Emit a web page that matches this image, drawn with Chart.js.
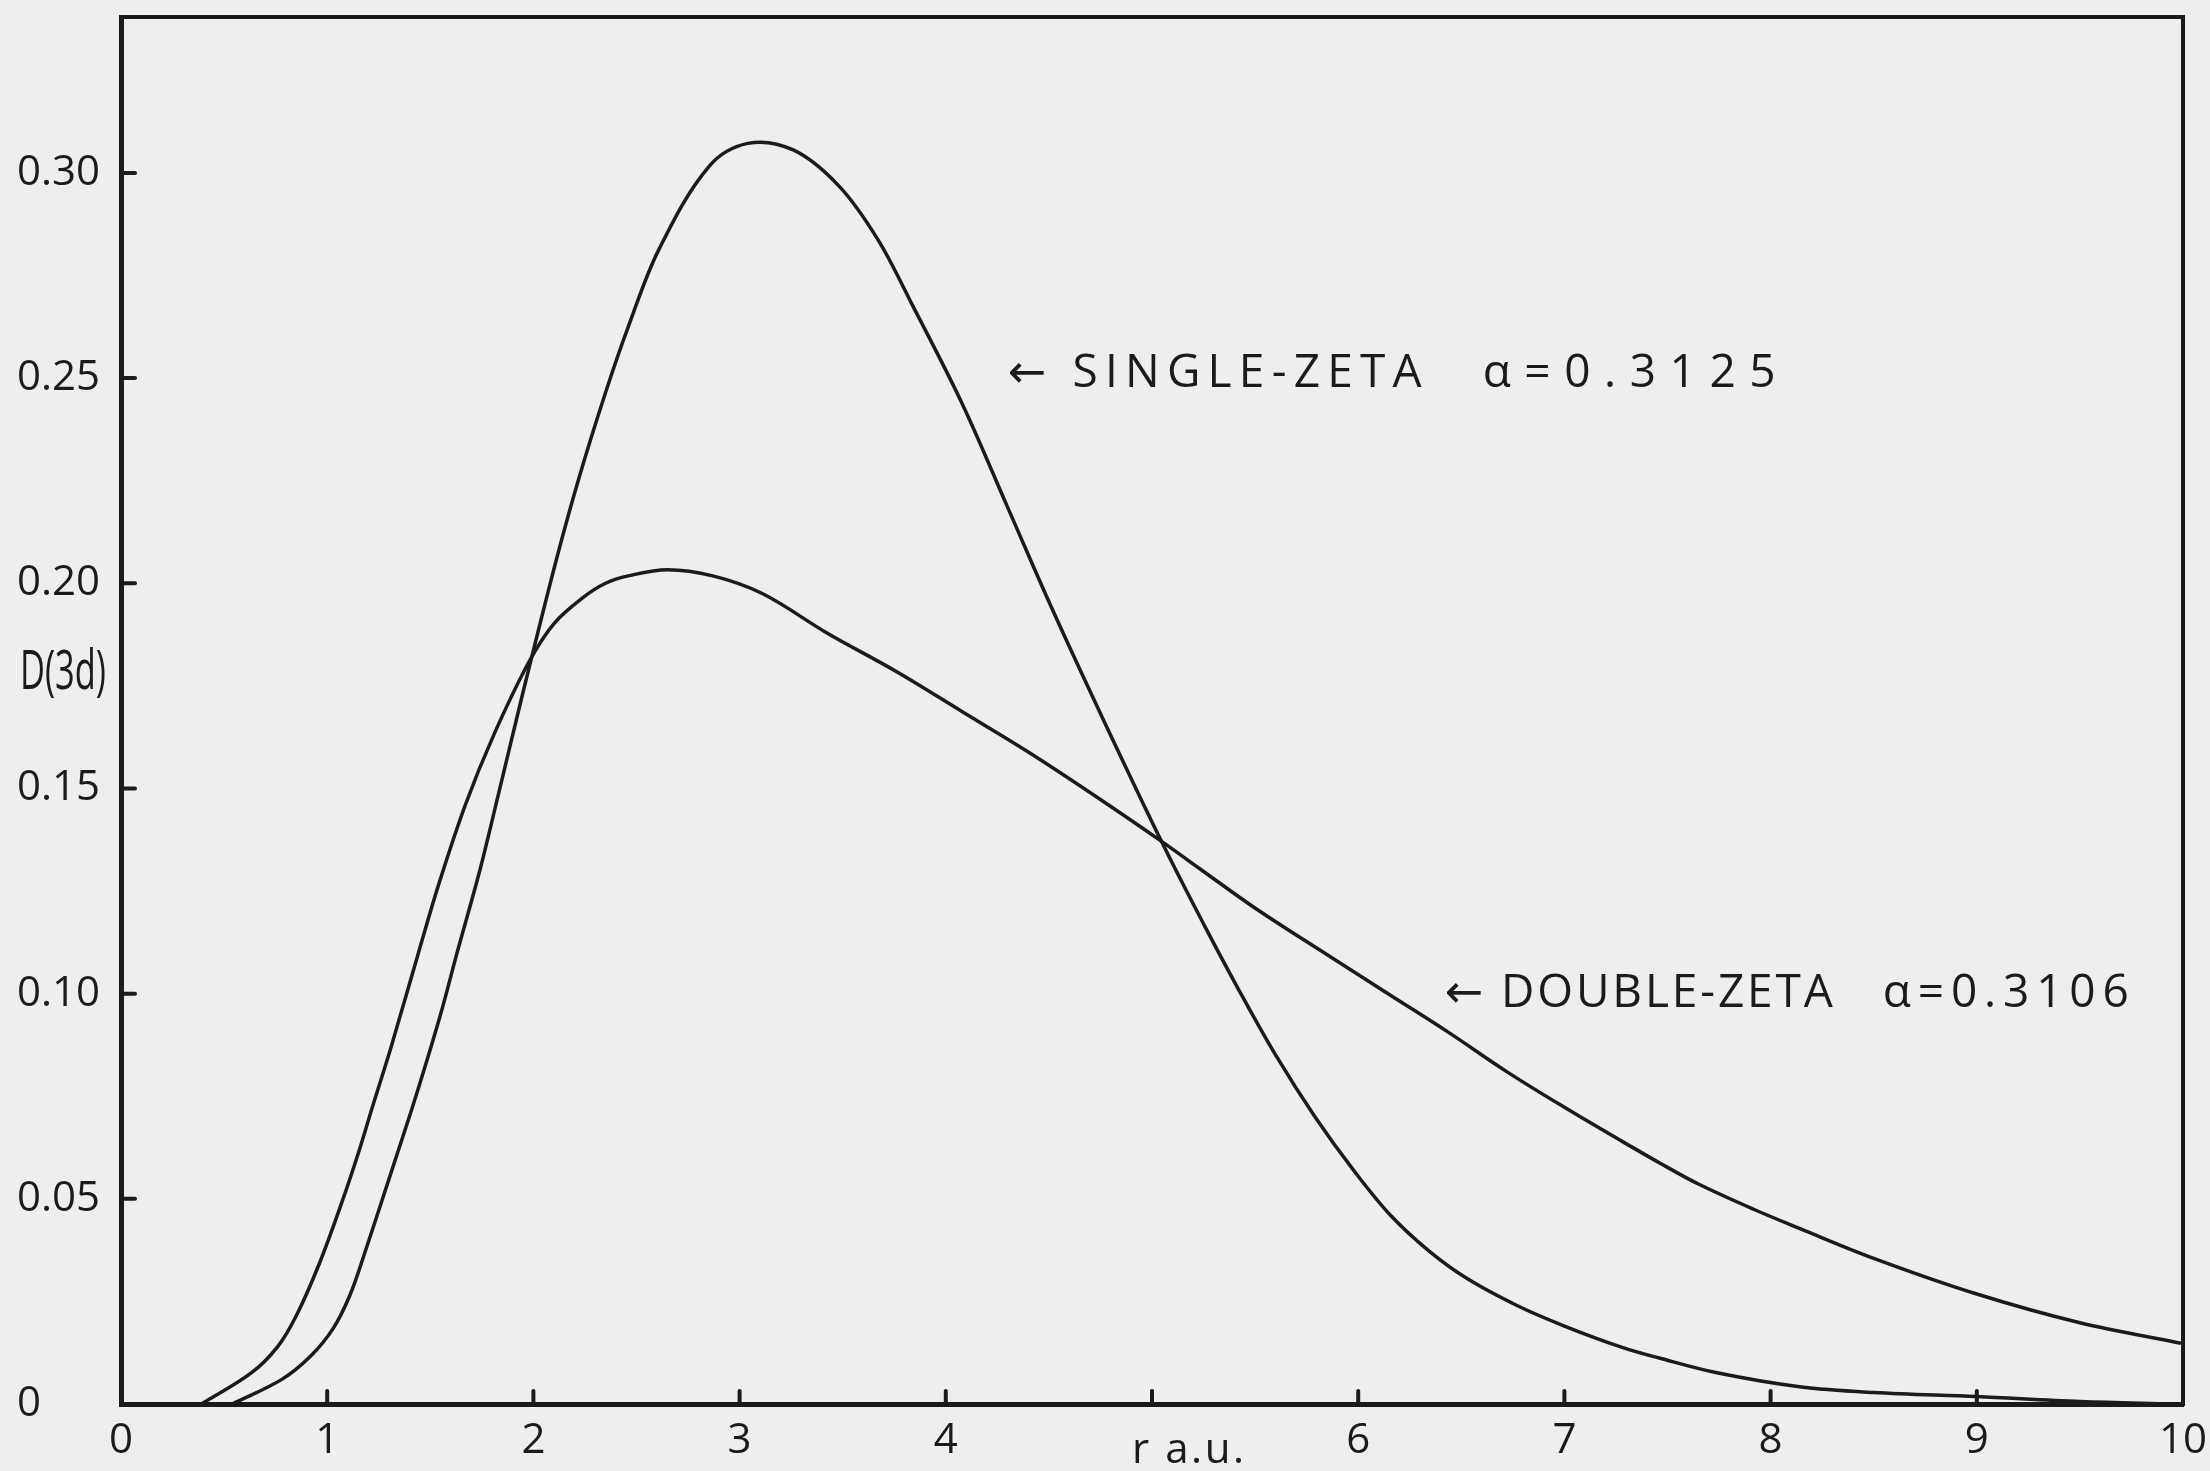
<!DOCTYPE html>
<html>
<head>
<meta charset="utf-8">
<script src="https://cdn.jsdelivr.net/npm/chart.js@4/dist/chart.umd.min.js"></script>
<style>
  html, body { margin: 0; padding: 0; background: #eeeeec; }
  #wrap { width: 2210px; height: 1471px; }
</style>
</head>
<body>
<div id="wrap"><canvas id="c" width="2210" height="1471"></canvas></div>
<script>
// ---- data ----
const singleZetaR = [0.54, 0.78, 0.92, 1.03, 1.11, 1.18, 1.33, 1.43, 1.55, 1.63, 1.74, 1.83, 1.95, 2.11, 2.22, 2.35, 2.46, 2.61, 2.85, 3.04, 3.26, 3.48, 3.67, 3.84, 4.08, 4.30, 4.51, 4.76, 5.05, 5.25, 5.42, 5.60, 5.79, 5.98, 6.16, 6.35, 6.53, 6.77, 7.00, 7.28, 7.46, 7.74, 8.14, 8.50, 9.00, 9.50, 9.95];
const singleZetaD = [0.0, 0.006, 0.0117, 0.0185, 0.0265, 0.0365, 0.0595, 0.075, 0.095, 0.110, 0.130, 0.1485, 0.1735, 0.2055, 0.2255, 0.2465, 0.2625, 0.2815, 0.3015, 0.3072, 0.3056, 0.2969, 0.2838, 0.2676, 0.2437, 0.2185, 0.1944, 0.1672, 0.1367, 0.117, 0.101, 0.085, 0.070, 0.0568, 0.0458, 0.037, 0.0305, 0.024, 0.019, 0.0138, 0.0112, 0.0076, 0.0042, 0.0028, 0.0018, 0.0006, 0.0];

const doubleZetaR = [0.39, 0.63, 0.76, 0.85, 0.96, 1.07, 1.15, 1.22, 1.31, 1.44, 1.54, 1.67, 1.81, 1.98, 2.10, 2.24, 2.35, 2.46, 2.65, 2.87, 3.11, 3.43, 3.76, 4.08, 4.40, 4.73, 5.05, 5.23, 5.51, 5.88, 6.16, 6.44, 6.72, 7.00, 7.28, 7.46, 7.65, 7.92, 8.14, 8.50, 9.00, 9.50, 9.99];
const doubleZetaD = [0.0, 0.0075, 0.014, 0.0215, 0.034, 0.049, 0.061, 0.0725, 0.087, 0.1095, 0.1265, 0.146, 0.1633, 0.181, 0.1902, 0.1965, 0.2, 0.2018, 0.2033, 0.2018, 0.1975, 0.1877, 0.1785, 0.1687, 0.1589, 0.148, 0.137, 0.1305, 0.1205, 0.1085, 0.0995, 0.0905, 0.081, 0.0723, 0.064, 0.0588, 0.0536, 0.0474, 0.0428, 0.0355, 0.0268, 0.0198, 0.0148];

const xTickValues = [0, 1, 2, 3, 4, 5, 6, 7, 8, 9, 10];
const xTickLabels = ['0', '1', '2', '3', '4', '', '6', '7', '8', '9', '10'];
const yTickValues = [0, 0.05, 0.10, 0.15, 0.20, 0.25, 0.30];
const yTickLabels = ['0', '0.05', '0.10', '0.15', '0.20', '0.25', '0.30'];
const xAxisTitle = 'r a.u.';
const yAxisTitle = 'D(3d)';
const seriesNames = ['SINGLE-ZETA', 'DOUBLE-ZETA'];
const alphaValues = ['0.3125', '0.3106'];

// ---- styling ----
const INK = '#1b1b1b';
const FONT = '"Open Sans", "DejaVu Sans", sans-serif';

function toPoints(xs, ys) { return xs.map((x, i) => ({ x: x, y: ys[i] })); }

function drawFit(ctx, text, x, y, width, font, squeeze) {
  ctx.save();
  ctx.font = font;
  ctx.textAlign = 'left';
  ctx.textBaseline = 'middle';
  const w = ctx.measureText(text).width;
  if (!squeeze && 'letterSpacing' in ctx && text.length > 1) {
    const ls = (width - w) / (text.length - 1);
    ctx.letterSpacing = ls.toFixed(2) + 'px';
    ctx.fillText(text, x, y);
  } else {
    ctx.translate(x, y);
    ctx.scale(width / w, 1);
    ctx.fillText(text, 0, 0);
  }
  ctx.restore();
}

const paperPlugin = {
  id: 'paper',
  beforeDraw(chart) {
    const ctx = chart.ctx;
    ctx.save();
    ctx.fillStyle = '#eeeeec';
    ctx.fillRect(0, 0, chart.width, chart.height);
    ctx.restore();
  }
};

const framePlugin = {
  id: 'frame',
  afterDraw(chart) {
    const ctx = chart.ctx;
    const a = chart.chartArea;
    const xs = chart.scales.x, ys = chart.scales.y;
    ctx.save();
    ctx.strokeStyle = INK;
    ctx.lineCap = 'square';
    ctx.lineWidth = 4;
    ctx.beginPath();
    ctx.moveTo(a.left, a.top); ctx.lineTo(a.right, a.top); ctx.lineTo(a.right, a.bottom);
    ctx.stroke();
    ctx.lineWidth = 4;
    ctx.lineCap = 'round';
    xTickValues.forEach(v => {
      if (v === xs.min || v === xs.max) return;
      const px = xs.getPixelForValue(v);
      ctx.beginPath(); ctx.moveTo(px, a.bottom); ctx.lineTo(px, a.bottom - 13); ctx.stroke();
    });
    yTickValues.forEach(v => {
      if (v === ys.min) return;
      const py = ys.getPixelForValue(v);
      ctx.beginPath(); ctx.moveTo(a.left, py); ctx.lineTo(a.left + 14, py); ctx.stroke();
    });
    ctx.fillStyle = INK;
    drawFit(ctx, yAxisTitle, 20, ys.getPixelForValue(0.178), 86, '54px ' + FONT, true);
    drawFit(ctx, xAxisTitle, 1132, 1451, 112, '42px ' + FONT);
    const ann = chart.options.plugins.frame.labels;
    ann.forEach((l, i) => {
      const px = xs.getPixelForValue(l.r);
      const py = ys.getPixelForValue(l.d);
      drawFit(ctx, '\u2190 ' + seriesNames[i], px, py, l.w1, '46px ' + FONT);
      drawFit(ctx, '\u03B1=' + alphaValues[i], px + l.gap, py, l.w2, '46px ' + FONT);
    });
    ctx.restore();
  }
};

const chart = new Chart(document.getElementById('c'), {
  type: 'scatter',
  data: {
    datasets: [
      { label: seriesNames[0], data: toPoints(singleZetaR, singleZetaD) },
      { label: seriesNames[1], data: toPoints(doubleZetaR, doubleZetaD) }
    ].map(d => Object.assign(d, {
      showLine: true,
      borderColor: INK,
      borderWidth: 3.5,
      pointRadius: 0,
      tension: 0.35,
      fill: false
    }))
  },
  options: {
    responsive: false,
    animation: false,
    devicePixelRatio: 1,
    layout: { padding: { left: 17, top: 17, right: 27, bottom: 0 } },
    plugins: {
      legend: { display: false },
      tooltip: { enabled: false },
      frame: {
        labels: [
          { r: 4.30, d: 0.251, w1: 414, gap: 475, w2: 293 },
          { r: 6.42, d: 0.0999, w1: 388, gap: 438, w2: 246 }
        ]
      }
    },
    scales: {
      x: {
        type: 'linear',
        min: 0, max: 10,
        afterBuildTicks: s => { s.ticks = xTickValues.map(v => ({ value: v })); },
        afterFit: s => { s.height = 67; s.paddingLeft = 0; s.paddingRight = 0; },
        ticks: {
          autoSkip: false,
          maxRotation: 0,
          padding: 12,
          color: INK,
          font: { family: FONT, size: 42 },
          callback: v => xTickLabels[xTickValues.indexOf(v)] ?? ''
        },
        grid: { drawOnChartArea: false, drawTicks: false },
        border: { display: true, color: INK, width: 5 }
      },
      y: {
        type: 'linear',
        min: 0, max: 0.338,
        afterBuildTicks: s => { s.ticks = yTickValues.map(v => ({ value: v })); },
        afterFit: s => { s.width = 104; s.paddingTop = 0; s.paddingBottom = 0; },
        ticks: {
          autoSkip: false,
          crossAlign: 'far',
          padding: 14,
          color: INK,
          font: { family: FONT, size: 42 },
          callback: v => yTickLabels[yTickValues.findIndex(t => Math.abs(t - v) < 1e-9)] ?? ''
        },
        grid: { drawOnChartArea: false, drawTicks: false },
        border: { display: true, color: INK, width: 5 }
      }
    }
  },
  plugins: [paperPlugin, framePlugin]
});
</script>
</body>
</html>
